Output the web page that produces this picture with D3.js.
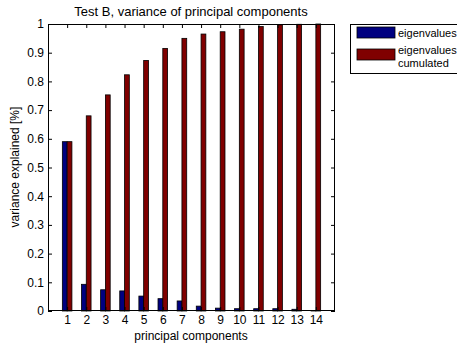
<!DOCTYPE html>
<html>
<head>
<meta charset="utf-8">
<script src="https://cdn.jsdelivr.net/npm/d3@7"></script>
<style>
  body { margin: 0; background: #fff; }
  text { font-family: "Liberation Sans", Arial, sans-serif; font-size: 12px; fill: #000; }
</style>
</head>
<body>
<div id="chart"></div>
<script>
const components = [1, 2, 3, 4, 5, 6, 7, 8, 9, 10, 11, 12, 13, 14];
const eigenvalues = [0.59, 0.093, 0.074, 0.070, 0.052, 0.043, 0.035, 0.017, 0.010, 0.008, 0.008, 0.008, 0.006, 0.002];
const cumulated = [0.59, 0.68, 0.753, 0.823, 0.873, 0.915, 0.950, 0.965, 0.973, 0.982, 0.991, 0.997, 0.999, 1.0];
const yTicks = [0, 0.1, 0.2, 0.3, 0.4, 0.5, 0.6, 0.7, 0.8, 0.9, 1];
const seriesNames = ["eigenvalues", "eigenvalues\ncumulated"];
const seriesColors = ["#000080", "#800000"];

const svg = d3.select("#chart")
    .append("svg")
        .attr("width", 457)
        .attr("height", 344);

const x = d3.scaleLinear().domain([0, 15]).range([48, 335]);
const y = d3.scaleLinear().domain([0, 1]).range([311, 24]);
const barW = x(0.25) - x(0);

// bars
const series = [eigenvalues, cumulated];
series.forEach((vals, s) => {
  svg.append("g").selectAll("rect")
    .data(components)
    .enter()
    .append("rect")
      .attr("x", (d) => s === 0 ? x(d) - barW : x(d))
      .attr("y", (d, i) => y(vals[i]))
      .attr("width", barW)
      .attr("height", (d, i) => y(0) - y(vals[i]))
      .attr("fill", seriesColors[s])
      .attr("stroke", "#000")
      .attr("stroke-width", 0.8);
});

// axes (ticks inside, box on all sides)
const tick = 4;
svg.append("g")
    .attr("transform", "translate(0,311)")
    .call(d3.axisBottom(x).tickValues(components).tickSize(-tick).tickPadding(4).tickSizeOuter(0))
    .call(g => g.select(".domain").remove());
svg.append("g")
    .attr("transform", "translate(0,24)")
    .call(d3.axisTop(x).tickValues(components).tickSize(-tick).tickFormat("").tickSizeOuter(0))
    .call(g => g.select(".domain").remove());
svg.append("g")
    .attr("transform", "translate(48,0)")
    .call(d3.axisLeft(y).tickValues(yTicks).tickFormat(d3.format("")).tickSize(-tick).tickPadding(4).tickSizeOuter(0))
    .call(g => g.select(".domain").remove());
svg.append("g")
    .attr("transform", "translate(335,0)")
    .call(d3.axisRight(y).tickValues(yTicks).tickSize(-tick).tickFormat("").tickSizeOuter(0))
    .call(g => g.select(".domain").remove());
svg.selectAll(".tick text").style("font-size", "12px").style("font-family", "Liberation Sans, Arial, sans-serif");

svg.append("rect")
    .attr("x", 48.5).attr("y", 24.5)
    .attr("width", 286).attr("height", 286)
    .attr("fill", "none")
    .attr("stroke", "#000");

// titles
svg.append("text")
    .attr("x", 191).attr("y", 16)
    .attr("text-anchor", "middle")
    .style("font-size", "13px")
    .text("Test B, variance of principal components");
svg.append("text")
    .attr("x", 191).attr("y", 340)
    .attr("text-anchor", "middle")
    .text("principal components");
svg.append("text")
    .attr("transform", "translate(19,167) rotate(-90)")
    .attr("text-anchor", "middle")
    .text("variance explained [%]");

// legend
const legend = svg.append("g");
legend.append("rect")
    .attr("x", 350.5).attr("y", 24.5)
    .attr("width", 120).attr("height", 49)
    .attr("fill", "#fff")
    .attr("stroke", "#000");
const legendRows = [29, 51];
seriesNames.forEach((name, s) => {
  legend.append("rect")
      .attr("x", 357).attr("y", legendRows[s] - 2)
      .attr("width", 38).attr("height", 11)
      .attr("fill", seriesColors[s])
      .attr("stroke", "#000")
      .attr("stroke-width", 0.8);
  const t = legend.append("text").attr("x", 398).attr("y", s === 0 ? 37 : 54)
      .style("font-size", "11px");
  name.split("\n").forEach((line, k) => {
    t.append("tspan").attr("x", 398).attr("dy", k === 0 ? 0 : 13).text(line);
  });
});
</script>
</body>
</html>
